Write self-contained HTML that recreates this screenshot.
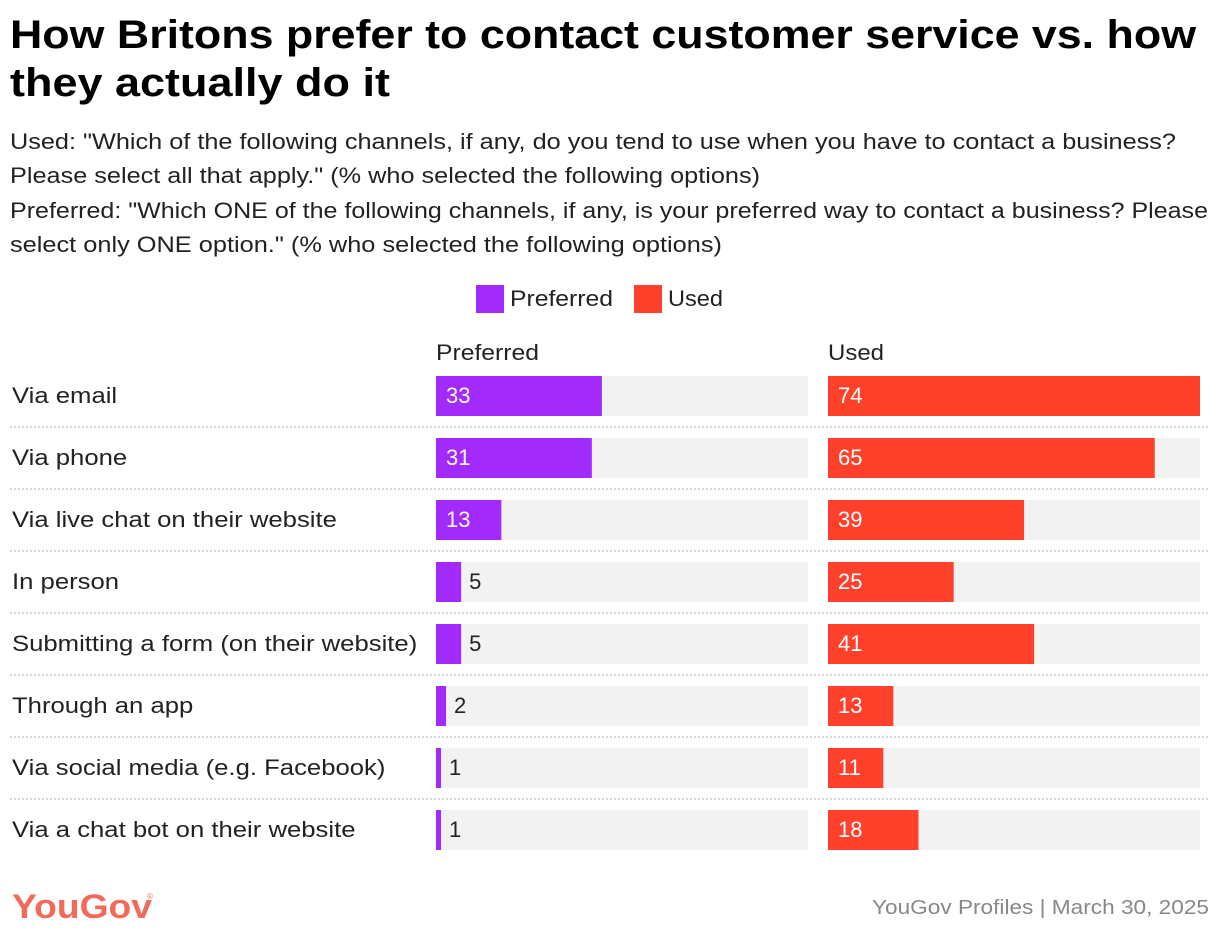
<!DOCTYPE html>
<html><head><meta charset="utf-8"><style>
body{margin:0;width:1220px;height:938px;background:#fff;font-family:"Liberation Sans",sans-serif;overflow:hidden}
</style></head><body>
<svg width="1220" height="938" xmlns="http://www.w3.org/2000/svg">
<text x="10" y="48" font-size="40" font-weight="bold" fill="#000" textLength="1186" lengthAdjust="spacingAndGlyphs">How Britons prefer to contact customer service vs. how</text>
<text x="10" y="96" font-size="40" font-weight="bold" fill="#000" textLength="380" lengthAdjust="spacingAndGlyphs">they actually do it</text>
<g font-size="22" fill="#222">
<text x="10" y="149" textLength="1166" lengthAdjust="spacingAndGlyphs">Used: "Which of the following channels, if any, do you tend to use when you have to contact a business?</text>
<text x="10" y="183" textLength="750" lengthAdjust="spacingAndGlyphs">Please select all that apply." (% who selected the following options)</text>
<text x="10" y="218" textLength="1198" lengthAdjust="spacingAndGlyphs">Preferred: "Which ONE of the following channels, if any, is your preferred way to contact a business? Please</text>
<text x="10" y="252" textLength="712" lengthAdjust="spacingAndGlyphs">select only ONE option." (% who selected the following options)</text>
</g>
<g>
<rect x="476" y="285" width="28" height="28" fill="#a22bfc"/>
<text x="510" y="306" font-size="22" fill="#222" textLength="103" lengthAdjust="spacingAndGlyphs">Preferred</text>
<rect x="634" y="285" width="28" height="28" fill="#ff412c"/>
<text x="668" y="306" font-size="22" fill="#222" textLength="55" lengthAdjust="spacingAndGlyphs">Used</text>
</g>
<text x="436" y="360" font-size="22" fill="#222" textLength="103" lengthAdjust="spacingAndGlyphs">Preferred</text>
<text x="828" y="360" font-size="22" fill="#222" textLength="56" lengthAdjust="spacingAndGlyphs">Used</text>
<g id="rows"></g>
<text x="12" y="918" font-size="34" font-weight="bold" fill="#f26a5c" textLength="140" lengthAdjust="spacingAndGlyphs">YouGov</text>
<text x="147" y="899" font-size="8" fill="#f26a5c">®</text>
<text x="1209" y="914" font-size="20" fill="#888" text-anchor="end" textLength="337" lengthAdjust="spacingAndGlyphs">YouGov Profiles | March 30, 2025</text>
</svg>
<script>
const categories=["Via email","Via phone","Via live chat on their website","In person","Submitting a form (on their website)","Through an app","Via social media (e.g. Facebook)","Via a chat bot on their website"];
const preferred=[33,31,13,5,5,2,1,1];
const used=[74,65,39,25,41,13,11,18];
const maxVal=74;
const NS="http://www.w3.org/2000/svg";
const g=document.getElementById('rows');
const W=372;
function sx(v){return v/maxVal*W;}
function mk(tag,attrs){const e=document.createElementNS(NS,tag);for(const k in attrs)e.setAttribute(k,attrs[k]);g.appendChild(e);return e;}
categories.forEach((c,i)=>{
  const top=376+62*i;
  const lab=mk('text',{x:12,y:top+27,'font-size':22,fill:'#222'});lab.textContent=c;
  
  
  const natural=lab.getComputedTextLength();
  lab.setAttribute('textLength',natural*1.167);
  lab.setAttribute('lengthAdjust','spacingAndGlyphs');
  [[436,preferred[i],'#a22bfc','preferred'],[828,used[i],'#ff412c','used']].forEach(([x0,v,col,nm])=>{
    const bg=mk('rect',{x:x0,y:top,width:W,height:40,fill:'#f2f2f2'});
    
    
    const w=sx(v);
    const b=mk('rect',{x:x0,y:top,width:w,height:40,fill:col});
    
    
    const inside=w>40;
    const t=mk('text',{x:inside?x0+10:x0+w+8,y:top+27,'font-size':22,fill:inside?'#fff':'#222'});
    t.textContent=v;
    
    
  });
  if(i<categories.length-1){
    const l=mk('line',{x1:10,x2:1210,y1:top+51,y2:top+51,stroke:'#ccc','stroke-width':1.5,'stroke-dasharray':'2,2'});
    
    
  }
});
</script>
</body></html>
